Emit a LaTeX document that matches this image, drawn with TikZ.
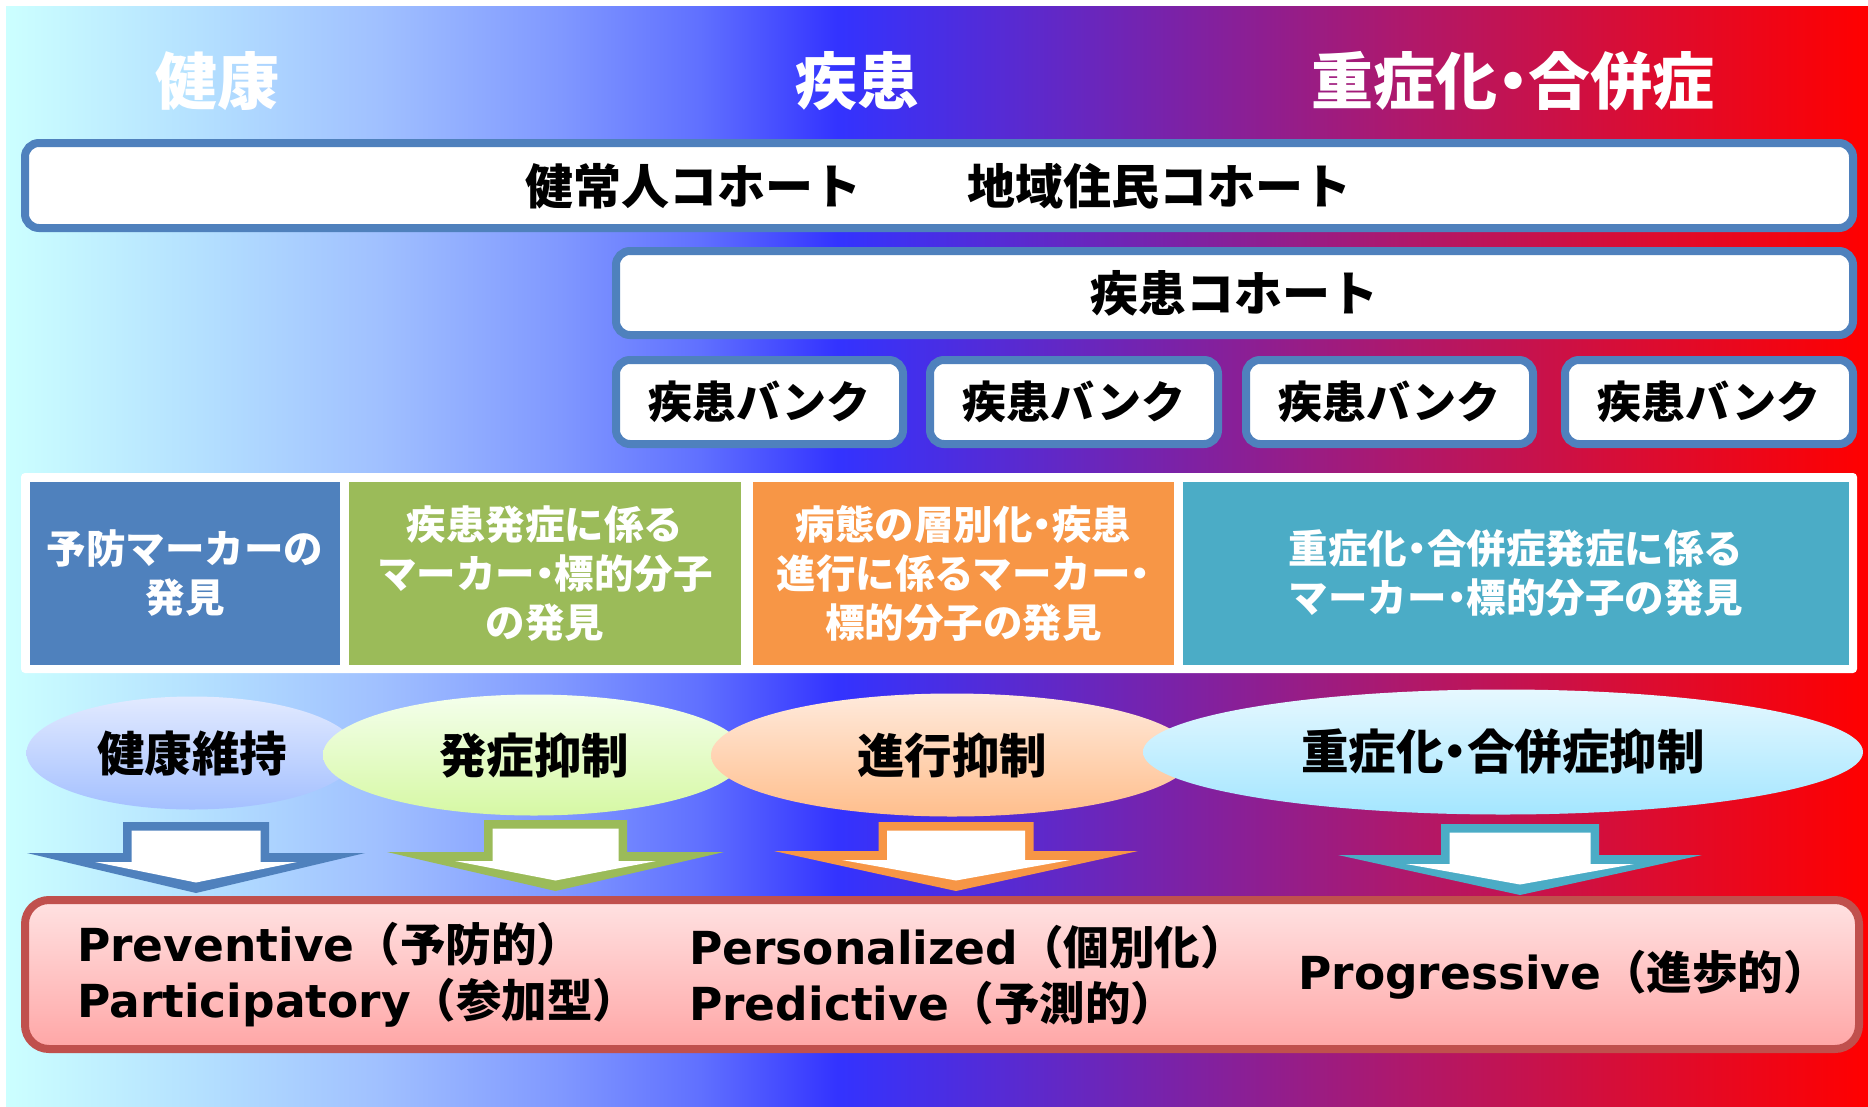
\documentclass[tikz,border=0pt]{standalone}
\usepackage{fontspec}
\usetikzlibrary{shapes.geometric}
\newfontfamily\jpf{Noto Sans CJK JP}
\newfontfamily\latf{DejaVu Sans}
\newcommand\la[1]{{\latf\bfseries #1}}
\newcommand\nd{\makebox[0.5em][c]{・}}
\definecolor{g0}{HTML}{CCFFFF}
\definecolor{g1}{HTML}{B4E0FF}
\definecolor{g2}{HTML}{A0C0FF}
\definecolor{g3}{HTML}{8098FF}
\definecolor{g4}{HTML}{6070FF}
\definecolor{g5}{HTML}{3333FF}
\definecolor{g6}{HTML}{7A22A8}
\definecolor{g7}{HTML}{B0186A}
\definecolor{g8}{HTML}{DC0C30}
\definecolor{g9}{HTML}{FF0000}
\definecolor{boxblue}{HTML}{4F81BD}
\definecolor{cblue}{HTML}{4F81BD}
\definecolor{cgreen}{HTML}{9BBB59}
\definecolor{corange}{HTML}{F79646}
\definecolor{ccyan}{HTML}{4BACC6}
\definecolor{redborder}{HTML}{C0504D}
\definecolor{pinktop}{HTML}{FFE2E2}
\definecolor{pinkbot}{HTML}{FFA6A6}
\definecolor{e1t}{HTML}{E2EAFF}
\definecolor{e1b}{HTML}{A4C0FF}
\definecolor{e2t}{HTML}{F4FFEC}
\definecolor{e2b}{HTML}{D6F8A4}
\definecolor{e3t}{HTML}{FFEADC}
\definecolor{e3b}{HTML}{FFBE8C}
\definecolor{e4t}{HTML}{E6F8FF}
\definecolor{e4b}{HTML}{A4E6FF}
\pgfdeclarehorizontalshading{bggrad}{100bp}{color(0bp)=(g0); color(25bp)=(g0); color(30.21bp)=(g1); color(35.04bp)=(g2); color(39.88bp)=(g3); color(43.64bp)=(g4); color(47.32bp)=(g5); color(56.31bp)=(g6); color(62.7bp)=(g7); color(69.15bp)=(g8); color(75bp)=(g9); color(100bp)=(g9)}
\newcommand\dnarrow[7]{%
 \fill[#7] ({#1-#2},#3) -- ({#1+#2},#3) -- ({#1+#2},#4) -- ({#1+#5},#4) -- (#1,#6) -- ({#1-#5},#4) -- ({#1-#2},#4) -- cycle;
 \fill[white] ({#1-#2+8.5},{#3+8.5}) -- ({#1+#2-8.5},{#3+8.5}) -- ({#1+#2-8.5},{#4+9}) -- ({#1+#5-68},{#4+9}) -- (#1,{#6-10.5}) -- ({#1-#5+68},{#4+9}) -- ({#1-#2+8.5},{#4+9}) -- cycle;
}
\tikzset{
  titletext/.style={text=white, inner sep=0pt, font=\jpf\bfseries\fontsize{62}{72}\selectfont},
  cohort/.style={draw=boxblue, line width=8pt, fill=white, rounded corners=14pt, inner sep=0pt},
  boxtext/.style={inner sep=0pt, font=\jpf\bfseries\fontsize{48}{56}\selectfont},
  banktext/.style={font=\jpf\bfseries\fontsize{44}{52}\selectfont},
  cell/.style={inner sep=0pt, text=white, align=center, font=\jpf\bfseries\fontsize{39.5}{49}\selectfont},
  ell/.style={ellipse, inner sep=0pt, font=\jpf\bfseries\fontsize{47.5}{56}\selectfont},
  pbox/.style={draw=redborder, line width=8pt, rounded corners=24pt, top color=pinktop, bottom color=pinkbot, inner sep=0pt},
  ptext/.style={inner sep=0pt, anchor=west, align=left, font=\jpf\bfseries\fontsize{45.5}{56}\selectfont}
}
\begin{document}
\begin{tikzpicture}[x=1pt,y=-1pt]
\useasboundingbox (0,0) rectangle (1868,1106);
\fill[white] (0,0) rectangle (1868,1106);
\shade[shading=bggrad] (6,6) rectangle (1868,1106);
% titles
\node[titletext] (tH) at (217,81) {健康};
\node[titletext] (tD) at (857,81) {疾患};
\node[titletext] (tS) at (1513,81) {重症化\nd 合併症};
% cohorts
\node[cohort, minimum width=1828pt, minimum height=85pt] (hc) at (939,185.5) {};
\node[boxtext] (hcA) at (693,186) {健常人コホート};
\node[boxtext] (hcB) at (1159,186) {地域住民コホート};
\node[cohort, minimum width=1237pt, minimum height=84pt, boxtext] (dc) at (1234.5,293) {疾患コホート};
% banks
\node[cohort, minimum width=287pt, minimum height=84pt, banktext] (b1) at (759.5,402) {疾患バンク};
\node[cohort, minimum width=288pt, minimum height=84pt, banktext] (b2) at (1074,402) {疾患バンク};
\node[cohort, minimum width=287pt, minimum height=84pt, banktext] (b3) at (1389.5,402) {疾患バンク};
\node[cohort, minimum width=288pt, minimum height=84pt, banktext] (b4) at (1709,402) {疾患バンク};
% cells
\node[fill=white, rounded corners=4pt, minimum width=1836pt, minimum height=200pt, inner sep=0pt] (cellbg) at (939,573) {};
\node[cell, fill=cblue, minimum width=310pt, minimum height=183pt] (c1) at (185,573.5) {予防マーカーの\\発見};
\node[cell, fill=cgreen, minimum width=392pt, minimum height=183pt] (c2) at (545,573.5) {疾患発症に係る\\マーカー\nd 標的分子\\の発見};
\node[cell, fill=corange, minimum width=421pt, minimum height=183pt] (c3) at (963.5,573.5) {病態の層別化\nd 疾患\\進行に係るマーカー\nd\\標的分子の発見};
\node[cell, fill=ccyan, minimum width=666pt, minimum height=183pt] (c4) at (1516,573.5) {重症化\nd 合併症発症に係る\\マーカー\nd 標的分子の発見};
% ellipses
\node[ell, top color=e1t, bottom color=e1b, minimum width=331pt, minimum height=113pt] (e1) at (192,753) {健康維持};
\node[ell, top color=e2t, bottom color=e2b, minimum width=422pt, minimum height=121pt] (e2) at (534,755) {発症抑制};
\node[ell, top color=e3t, bottom color=e3b, minimum width=482pt, minimum height=123pt] (e3) at (952,755) {進行抑制};
\node[ell, top color=e4t, bottom color=e4b, minimum width=720pt, minimum height=125pt] (e4) at (1503,752) {重症化\nd 合併症抑制};
% arrows
\dnarrow{196}{73}{822}{853}{169}{893}{cblue}
\dnarrow{555.5}{71.5}{820}{852}{168.5}{891}{cgreen}
\dnarrow{956}{77.5}{822}{851}{182}{891}{corange}
\dnarrow{1520}{79}{824}{855}{182}{895}{ccyan}
% bottom box
\node[pbox, minimum width=1834pt, minimum height=149pt] (pb) at (942,974.5) {};
\node[ptext] (p1) at (77,975) {\la{Preventive}（予防的）\\\la{Participatory}（参加型）};
\node[ptext] (p2) at (689,975) {\la{Personalized}（個別化）\\\la{Predictive}（予測的）};
\node[ptext] (p3) at (1298,975) {\la{Progressive}（進歩的）};
\end{tikzpicture}
\end{document}
